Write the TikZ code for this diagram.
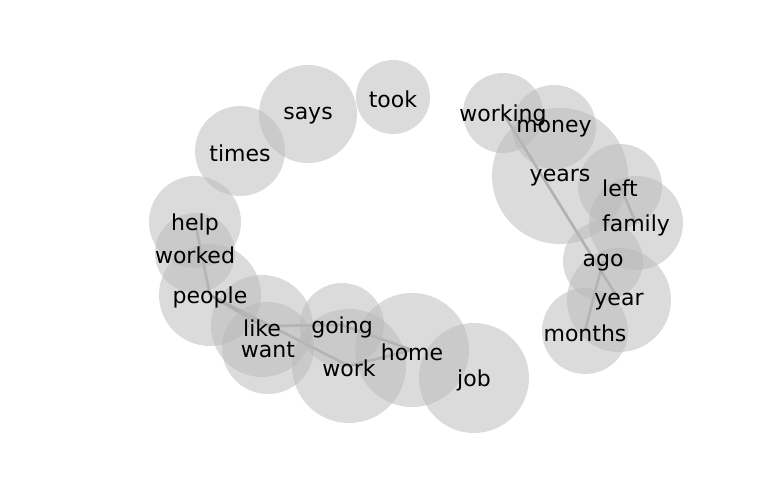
\documentclass[tikz,border=0pt]{standalone}
\usepackage{fontspec}
\setmainfont{DejaVu Sans}
\begin{document}
\begin{tikzpicture}[x=0.75pt,y=-0.75pt,
  bubble/.style={fill=black!28,fill opacity=0.5,draw=none},
  word/.style={font=\fontsize{16.5pt}{18pt}\selectfont,text=black,inner sep=0pt,yshift=-1.5pt},
  link/.style={draw=black!55,line width=2pt,opacity=0.6}]
\useasboundingbox (0,0) rectangle (768,500);
% node positions
\coordinate (took) at (393,97);
\coordinate (says) at (308,114);
\coordinate (times) at (240,151);
\coordinate (help) at (195,222);
\coordinate (worked) at (195,253);
\coordinate (people) at (210,295);
\coordinate (like) at (262,326);
\coordinate (want) at (268,348);
\coordinate (going) at (342,325);
\coordinate (work) at (349,366);
\coordinate (home) at (412,350);
\coordinate (job) at (474,378);
\coordinate (working) at (503,113);
\coordinate (money) at (554,127);
\coordinate (years) at (560,176);
\coordinate (left) at (620,186);
\coordinate (family) at (636,223);
\coordinate (ago) at (603,261);
\coordinate (year) at (619,300);
\coordinate (months) at (585,331);
% edges
\draw[link] (help) -- (people);
\draw[link] (people) -- (like);
\draw[link] (people) -- (work);
\draw[link] (like) -- (going);
\draw[link] (going) -- (home);
\draw[link] (work) -- (home);
\draw[link] (working) -- (year);
\draw[link] (left) -- (family);
\draw[link] (ago) -- (months);
% bubbles
\foreach \n/\r in {took/37,says/49,times/45,help/46,worked/40,people/51,like/51,want/46,going/42,work/57,home/57,job/55,working/40,money/42,years/68,left/42,family/47,ago/40,year/52,months/43}
  \fill[bubble] (\n) circle (\r);
% labels
\foreach \n in {took,says,times,help,worked,people,like,want,going,work,home,job,working,money,years,left,family,ago,year,months}
  \node[word] (\n-label) at (\n) {\n};
\end{tikzpicture}
\end{document}
